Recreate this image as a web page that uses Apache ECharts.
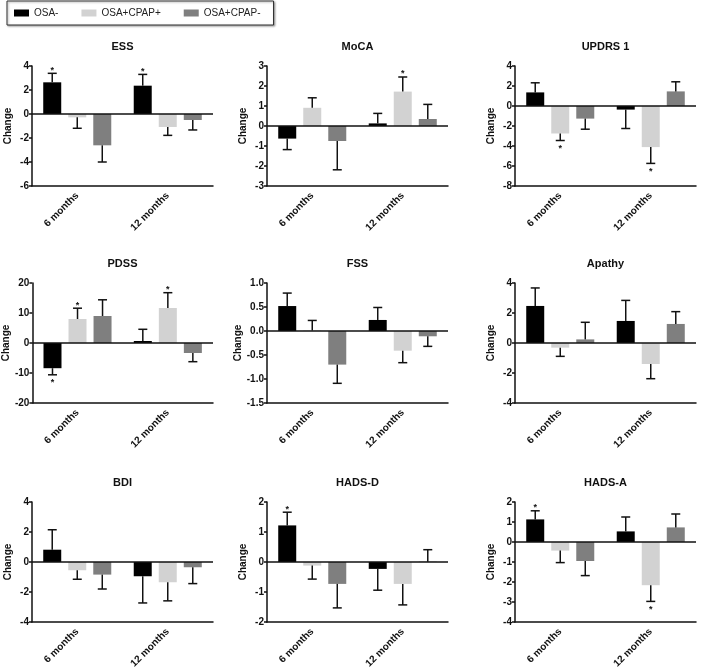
<!DOCTYPE html>
<html>
<head>
<meta charset="utf-8">
<script src="https://cdn.jsdelivr.net/npm/echarts@6/dist/echarts.min.js"></script>
<style>
html,body{margin:0;padding:0;background:#fff;}
#chart{width:702px;height:672px;}
</style>
</head>
<body>
<div id="chart"></div>
<script>
// ---- DATA ----
const categories = ['6 months', '12 months'];
const groups = ['OSA-', 'OSA+CPAP+', 'OSA+CPAP-'];
const titles = ['ESS', 'MoCA', 'UPDRS 1', 'PDSS', 'FSS', 'Apathy', 'BDI', 'HADS-D', 'HADS-A'];

// rows = groups (OSA-, OSA+CPAP+, OSA+CPAP-), columns = categories (6, 12 months)
const essMean = [[2.64, 2.36], [-0.28, -1.08], [-2.61, -0.50]];
const essErr = [[0.75, 0.94], [0.91, 0.70], [1.39, 0.83]];
const essStar = [[1, 1], [0, 0], [0, 0]];
const essTicks = [-6, 4, 2];

const mocaMean = [[-0.63, 0.13], [0.91, 1.72], [-0.75, 0.35]];
const mocaErr = [[0.55, 0.50], [0.50, 0.73], [1.44, 0.73]];
const mocaStar = [[0, 0], [0, 1], [0, 0]];
const mocaTicks = [-3, 3, 1];

const updrsMean = [[1.36, -0.36], [-2.75, -4.11], [-1.26, 1.46]];
const updrsErr = [[0.96, 1.89], [0.70, 1.63], [1.06, 0.96]];
const updrsStar = [[0, 0], [1, 1], [0, 0]];
const updrsTicks = [-8, 4, 2];

const pdssMean = [[-8.4, 0.67], [8.0, 11.67], [9.0, -3.33]];
const pdssErr = [[2.2, 3.9], [3.6, 5.1], [5.4, 2.9]];
const pdssStar = [[1, 0], [1, 1], [0, 0]];
const pdssTicks = [-20, 20, 10];

const fssMean = [[0.52, 0.23], [0.01, -0.41], [-0.70, -0.11]];
const fssErr = [[0.27, 0.26], [0.21, 0.25], [0.39, 0.21]];
const fssStar = [[0, 0], [0, 0], [0, 0]];
const fssTicks = [-1.5, 1.0, 0.5];

const apathyMean = [[2.47, 1.47], [-0.31, -1.40], [0.24, 1.27]];
const apathyErr = [[1.20, 1.37], [0.58, 0.98], [1.14, 0.82]];
const apathyStar = [[0, 0], [0, 0], [0, 0]];
const apathyTicks = [-4, 4, 2];

const bdiMean = [[0.82, -0.95], [-0.55, -1.35], [-0.84, -0.35]];
const bdiErr = [[1.33, 1.78], [0.60, 1.24], [0.96, 1.09]];
const bdiStar = [[0, 0], [0, 0], [0, 0]];
const bdiTicks = [-4, 4, 2];

const hadsdMean = [[1.22, -0.23], [-0.12, -0.73], [-0.73, 0.01]];
const hadsdErr = [[0.44, 0.71], [0.45, 0.70], [0.80, 0.40]];
const hadsdStar = [[1, 0], [0, 0], [0, 0]];
const hadsdTicks = [-2, 2, 1];

const hadsaMean = [[1.13, 0.53], [-0.43, -2.16], [-0.95, 0.73]];
const hadsaErr = [[0.43, 0.72], [0.60, 0.81], [0.73, 0.67]];
const hadsaStar = [[1, 0], [0, 1], [0, 0]];
const hadsaTicks = [-4, 2, 1];

const panelMeans = [essMean, mocaMean, updrsMean, pdssMean, fssMean, apathyMean, bdiMean, hadsdMean, hadsaMean];
const panelErrs = [essErr, mocaErr, updrsErr, pdssErr, fssErr, apathyErr, bdiErr, hadsdErr, hadsaErr];
const panelStars = [essStar, mocaStar, updrsStar, pdssStar, fssStar, apathyStar, bdiStar, hadsdStar, hadsaStar];
const panelTicks = [essTicks, mocaTicks, updrsTicks, pdssTicks, fssTicks, apathyTicks, bdiTicks, hadsdTicks, hadsaTicks];

// ---- STYLE / LAYOUT ----
const FONT = '"Liberation Sans", Arial, Helvetica, sans-serif';
const colors = ['#000000', '#d2d2d2', '#7f7f7f'];
const colLeft = [32, 267, 515];
const rowTop = [66, 283, 502];
const gridW = 181, gridH = 120;
const BAR_W = 18, GAP_RATIO = 0.39;
const BAR_STEP = BAR_W * (1 + GAP_RATIO);

const grid = [], xAxis = [], yAxis = [], series = [], title = [];

for (let p = 0; p < 9; p++) {
  const r = Math.floor(p / 3), c = p % 3;
  const left = colLeft[c], top = rowTop[r];
  grid.push({ left: left, top: top, width: gridW, height: gridH, containLabel: false });
  title.push({
    text: titles[p], left: left + gridW / 2, top: top - 25, textAlign: 'center', padding: 0,
    textStyle: { fontFamily: FONT, fontSize: 11, fontWeight: 'bold', color: '#111' }
  });
  const ticks = panelTicks[p];
  const decimals = (ticks[2] % 1 !== 0) ? 1 : 0;
  xAxis.push({
    type: 'category', gridIndex: p, data: categories, position: 'bottom',
    axisLine: { onZero: false, lineStyle: { color: '#111', width: 1.5 } },
    axisTick: { alignWithLabel: true, length: 4, lineStyle: { color: '#111', width: 1.5 } },
    axisLabel: { rotate: 45, margin: 8, fontFamily: FONT, fontSize: 10, fontWeight: 'bold', color: '#111', interval: 0 }
  });
  yAxis.push({
    type: 'value', gridIndex: p, min: ticks[0], max: ticks[1], interval: ticks[2],
    name: 'Change', nameLocation: 'middle', nameGap: 19,
    nameTextStyle: { fontFamily: FONT, fontSize: 10, fontWeight: 'bold', color: '#111' },
    axisLine: { show: true, lineStyle: { color: '#111', width: 1.5 } },
    axisTick: { show: true, length: 3, lineStyle: { color: '#111', width: 1.5 } },
    splitLine: { show: false },
    axisLabel: {
      margin: 3, fontFamily: FONT, fontSize: 10, fontWeight: 'bold', color: '#111',
      formatter: v => v.toFixed(decimals)
    }
  });
  const mean = panelMeans[p], err = panelErrs[p], star = panelStars[p];
  for (let g = 0; g < 3; g++) {
    const s = {
      type: 'bar', name: groups[g], xAxisIndex: p, yAxisIndex: p,
      data: mean[g], barWidth: BAR_W, barGap: (GAP_RATIO * 100) + '%',
      itemStyle: { color: colors[g] }, z: 2, silent: true
    };
    if (g === 0) {
      s.markLine = {
        silent: true, symbol: 'none', animation: false,
        label: { show: false },
        lineStyle: { color: '#111', width: 1.5, type: 'solid' },
        data: [{ yAxis: 0 }]
      };
    }
    series.push(s);
  }
  const errData = [];
  for (let g = 0; g < 3; g++) {
    for (let k = 0; k < categories.length; k++) {
      errData.push([k, mean[g][k], err[g][k], star[g][k], g]);
    }
  }
  series.push({
    type: 'custom', xAxisIndex: p, yAxisIndex: p, z: 3, silent: true,
    encode: { x: 0, y: 1 },
    data: errData,
    renderItem: function (params, api) {
      const k = api.value(0), m = api.value(1), e = api.value(2), st = api.value(3), g = api.value(4);
      const dir = m >= 0 ? 1 : -1;
      const p0 = api.coord([k, m]);
      const p1 = api.coord([k, m + dir * e]);
      const x = p0[0] + (g - 1) * BAR_STEP;
      const children = [
        { type: 'line', shape: { x1: x, y1: p0[1], x2: x, y2: p1[1] }, style: { stroke: '#111', lineWidth: 1.5 } },
        { type: 'line', shape: { x1: x - 4.5, y1: p1[1], x2: x + 4.5, y2: p1[1] }, style: { stroke: '#111', lineWidth: 1.5 } }
      ];
      if (st) {
        children.push({
          type: 'text',
          style: {
            text: '*', x: x, y: dir > 0 ? p1[1] - 3 : p1[1] + 8,
            align: 'center', verticalAlign: 'middle',
            font: 'bold 9px ' + FONT, fill: '#111'
          }
        });
      }
      return { type: 'group', children: children };
    }
  });
}

const option = {
  animation: false,
  backgroundColor: '#ffffff',
  title: title,
  legend: {
    data: groups, left: 7, top: 1, orient: 'horizontal',
    icon: 'rect', itemWidth: 15, itemHeight: 7, itemGap: 23,
    padding: [7, 13, 7, 7],
    borderColor: '#333', borderWidth: 1,
    shadowColor: 'rgba(0,0,0,0.35)', shadowBlur: 2, shadowOffsetX: 1, shadowOffsetY: 1,
    backgroundColor: '#fff',
    textStyle: { fontFamily: FONT, fontSize: 10, color: '#222' },
    selectedMode: false
  },
  grid: grid,
  xAxis: xAxis,
  yAxis: yAxis,
  series: series
};

const chart = echarts.init(document.getElementById('chart'), null, { renderer: 'canvas' });
chart.setOption(option);
</script>
</body>
</html>
